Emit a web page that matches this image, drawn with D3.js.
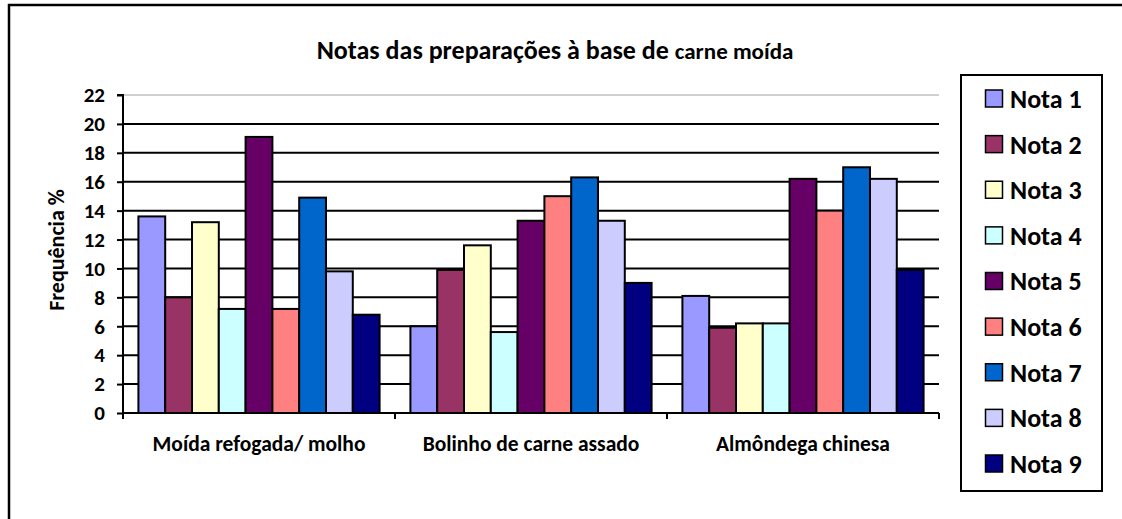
<!DOCTYPE html>
<html>
<head>
<meta charset="utf-8">
<script src="https://cdn.jsdelivr.net/npm/d3@7"></script>
<style>
  html, body { margin: 0; padding: 0; background: #fff; }
  svg { display: block; font-family: Carlito, Lato, "Open Sans", sans-serif; font-weight: bold; }
</style>
</head>
<body>
<svg id="chart" width="1122" height="519"></svg>
<script>
const categories = ["Moída refogada/ molho", "Bolinho de carne assado", "Almôndega chinesa"];
const seriesNames = ["Nota 1", "Nota 2", "Nota 3", "Nota 4", "Nota 5", "Nota 6", "Nota 7", "Nota 8", "Nota 9"];
const nota1 = [13.6, 6.0, 8.1];
const nota2 = [8.0, 9.9, 5.9];
const nota3 = [13.2, 11.6, 6.2];
const nota4 = [7.2, 5.6, 6.2];
const nota5 = [19.1, 13.3, 16.2];
const nota6 = [7.2, 15.0, 14.0];
const nota7 = [14.9, 16.3, 17.0];
const nota8 = [9.8, 13.3, 16.2];
const nota9 = [6.8, 9.0, 9.9];
const seriesColors = ["#9999FF", "#993366", "#FFFFCC", "#CCFFFF", "#660066", "#FF8080", "#0066CC", "#CCCCFF", "#000080"];
const yTicks = [0, 2, 4, 6, 8, 10, 12, 14, 16, 18, 20, 22];
const title1 = "Notas das preparações à base de ";
const title2 = "carne moída";
const yLabel = "Frequência %";

const seriesValues = [nota1, nota2, nota3, nota4, nota5, nota6, nota7, nota8, nota9];
const FONT = "Carlito, Lato, 'Open Sans', sans-serif";

const svg = d3.select("#chart");
const plot = { left: 123, right: 939, top: 95, bottom: 413 };

// outer frame
svg.append("rect").attr("x", 9).attr("y", 5).attr("width", 1130).attr("height", 530)
  .attr("fill", "none").attr("stroke", "#000").attr("stroke-width", 2.5);

const x0 = d3.scaleBand().domain(categories).range([plot.left, plot.right]).paddingInner(0).paddingOuter(0);
const x1 = d3.scaleBand().domain(seriesNames).range([0, x0.bandwidth()]).paddingInner(0).paddingOuter(0.575);
const y = d3.scaleLinear().domain([0, 22]).range([plot.bottom, plot.top]);

// gridlines
svg.append("g").selectAll("line").data(yTicks.filter(d => d > 0)).join("line")
  .attr("x1", plot.left).attr("x2", plot.right)
  .attr("y1", d => y(d)).attr("y2", d => y(d))
  .attr("stroke", d => d === 22 ? "#d0d0d0" : "#000")
  .attr("stroke-width", 2);

// bars
const groups = svg.append("g").selectAll("g").data(categories).join("g")
  .attr("transform", d => `translate(${x0(d)},0)`);
groups.selectAll("rect").data((c, ci) => seriesNames.map((s, si) => ({ s, si, v: seriesValues[si][ci] })))
  .join("rect")
  .attr("x", d => x1(d.s)).attr("width", x1.bandwidth())
  .attr("y", d => y(d.v)).attr("height", d => y(0) - y(d.v))
  .attr("fill", d => seriesColors[d.si])
  .attr("stroke", "#000").attr("stroke-width", 2);

// y axis
const yAxis = d3.axisLeft(y).tickValues(yTicks).tickSize(6).tickPadding(12).tickFormat(d3.format("d"));
const gy = svg.append("g").attr("transform", `translate(${plot.left},0)`).call(yAxis);
gy.select(".domain").attr("stroke", "#000").attr("stroke-width", 2).attr("d", `M-6,${plot.top}H0V${plot.bottom}`);
gy.selectAll(".tick line").attr("stroke", "#000").attr("stroke-width", 2);
gy.selectAll(".tick text").attr("font-size", 21).attr("font-weight", "bold").attr("fill", "#000")
  .attr("font-family", FONT);

// x axis
const xAxis = d3.axisBottom(x0).tickSize(0).tickPadding(23);
const gx = svg.append("g").attr("transform", `translate(0,${plot.bottom})`).call(xAxis);
gx.select(".domain").attr("stroke", "#000").attr("stroke-width", 2).attr("d", `M${plot.left},0H${plot.right}`);
gx.selectAll(".tick text").attr("font-size", 21.5).attr("font-weight", "bold").attr("fill", "#000")
  .attr("font-family", FONT);
const boundaries = categories.map(c => x0(c)).concat([plot.right]);
gx.append("g").selectAll("line").data(boundaries).join("line")
  .attr("x1", d => d).attr("x2", d => d).attr("y1", 0).attr("y2", 6)
  .attr("stroke", "#000").attr("stroke-width", 2);

// y label
svg.append("text").attr("transform", `translate(64,250) rotate(-90)`)
  .attr("text-anchor", "middle").attr("font-size", 22).text(yLabel);

// title
const t = svg.append("text").attr("x", 555).attr("y", 59).attr("text-anchor", "middle");
t.append("tspan").attr("font-size", 26).text(title1);
t.append("tspan").attr("font-size", 23).text(title2);

// legend
const lg = svg.append("g");
lg.append("rect").attr("x", 961).attr("y", 75).attr("width", 141).attr("height", 416)
  .attr("fill", "#fff").attr("stroke", "#000").attr("stroke-width", 2);
const ly = d3.scalePoint().domain(seriesNames).range([98.5, 463.5]);
const items = lg.selectAll("g").data(seriesNames).join("g")
  .attr("transform", d => `translate(0,${ly(d)})`);
items.append("rect").attr("x", 985.5).attr("y", -8.5).attr("width", 17).attr("height", 17)
  .attr("fill", (d, i) => seriesColors[i]).attr("stroke", "#000").attr("stroke-width", 1.5);
items.append("text").attr("x", 1010).attr("y", 0).attr("dy", "0.36em")
  .attr("font-size", 26).text(d => d);
</script>
</body>
</html>
